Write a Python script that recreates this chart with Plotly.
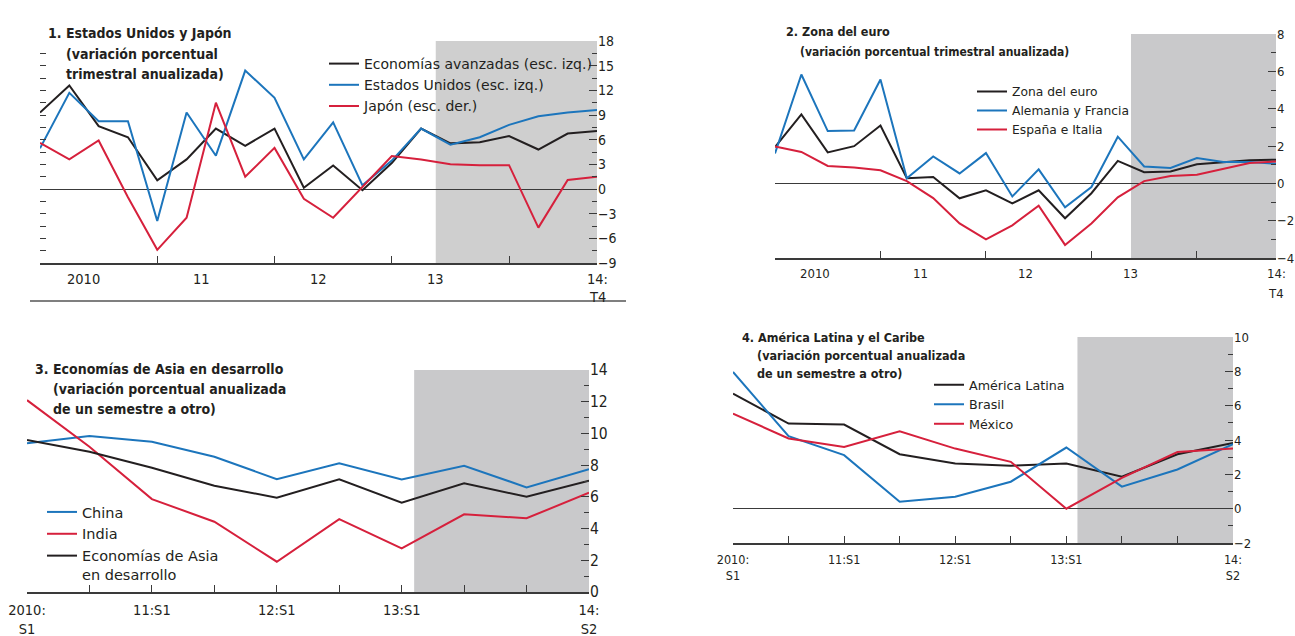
import plotly.graph_objects as go

W, H = 1295, 636
FONT = "DejaVu Sans Condensed, Liberation Sans Narrow, sans-serif"
LEGFONT = "DejaVu Sans, sans-serif"
TXT = "#231f20"
AX = "#3a3a3a"
BLACK = "#231f20"
BLUE = "#1c75bc"
RED = "#d6203c"
SHADE = "#c9c9cb"

# ---------------- data ----------------
quarters = ["2010T1", "2010T2", "2010T3", "2010T4", "2011T1", "2011T2", "2011T3", "2011T4",
            "2012T1", "2012T2", "2012T3", "2012T4", "2013T1", "2013T2", "2013T3", "2013T4",
            "2014T1", "2014T2", "2014T3", "2014T4"]
semesters = ["2010S1", "2010S2", "2011S1", "2011S2", "2012S1", "2012S2", "2013S1", "2013S2",
             "2014S1", "2014S2"]

# Panel 1: Estados Unidos y Japón
adv_econ = [3.1, 4.2, 2.55, 2.1, 0.35, 1.2, 2.45, 1.75, 2.45, 0.05, 0.95, -0.05, 1.05, 2.45,
            1.85, 1.9, 2.15, 1.6, 2.25, 2.35]
usa = [1.65, 3.9, 2.75, 2.75, -1.3, 3.1, 1.35, 4.8, 3.7, 1.2, 2.7, 0.15, 1.15, 2.45, 1.8, 2.1,
       2.6, 2.95, 3.1, 3.2]
japan = [5.6, 3.6, 5.9, -1.0, -7.4, -3.5, 10.5, 1.5, 5.0, -1.2, -3.5, 0.3, 4.0, 3.6, 3.0, 2.9,
         2.9, -4.7, 1.1, 1.5]

# Panel 2: Zona del euro
euro_area = [1.94, 3.69, 1.66, 1.99, 3.1, 0.27, 0.34, -0.8, -0.37, -1.08, -0.37, -1.87, -0.53,
             1.2, 0.6, 0.64, 1.02, 1.14, 1.23, 1.27]
ger_fra = [1.6, 5.83, 2.8, 2.83, 5.56, 0.27, 1.44, 0.53, 1.62, -0.7, 0.75, -1.28, -0.2, 2.5, 0.9,
           0.82, 1.35, 1.14, 1.14, 1.05]
spa_ita = [1.98, 1.68, 0.93, 0.85, 0.7, 0.12, -0.79, -2.15, -3.0, -2.25, -1.2, -3.3, -2.15,
           -0.75, 0.12, 0.39, 0.46, 0.79, 1.09, 1.17]

# Panel 3: Economías de Asia en desarrollo
china = [9.38, 9.84, 9.48, 8.53, 7.12, 8.11, 7.1, 7.96, 6.6, 7.74]
india = [12.1, 9.16, 5.86, 4.43, 1.91, 4.6, 2.75, 4.9, 4.65, 6.26]
dev_asia = [9.58, 8.85, 7.84, 6.7, 5.95, 7.1, 5.63, 6.85, 6.01, 7.02]

# Panel 4: América Latina y el Caribe
latam = [6.7, 4.96, 4.9, 3.17, 2.63, 2.5, 2.63, 1.86, 3.17, 3.83]
brazil = [7.96, 4.22, 3.12, 0.4, 0.69, 1.57, 3.56, 1.28, 2.28, 3.76]
mexico = [5.54, 4.09, 3.6, 4.51, 3.5, 2.73, 0.0, 1.8, 3.3, 3.5]

q_year_labels = ["2010", "11", "12", "13"]
q_end_label = ["14:", "T4"]
s_tick_text = ["2010:<br>S1", "", "11:S1", "", "12:S1", "", "13:S1", "", "", "14:<br>S2"]

qx = list(range(len(quarters)))
sx = list(range(len(semesters)))
q_proj_start = 13.5   # projection shading (quarterly panels)
s_proj_start = 6.2    # projection shading (half-year panels)


def px(x):
    return x / W


def py(y):
    return 1 - y / H


fig = go.Figure()


def line(x, y, name, color, xa, ya, leg, grp):
    fig.add_trace(go.Scatter(x=x, y=y, name=name, mode="lines",
                             line=dict(color=color, width=2),
                             xaxis=xa, yaxis=ya, legend=leg, legendgroup=grp,
                             hoverinfo="skip"))


# Panel 1
line(qx, adv_econ, "Economías avanzadas (esc. izq.)", BLACK, "x", "y", "legend", "p1a")
line(qx, usa, "Estados Unidos (esc. izq.)", BLUE, "x", "y", "legend", "p1b")
line(qx, japan, "Japón (esc. der.)", RED, "x", "y2", "legend", "p1c")
# Panel 2
line(qx, euro_area, "Zona del euro", BLACK, "x2", "y3", "legend2", "p2a")
line(qx, ger_fra, "Alemania y Francia", BLUE, "x2", "y3", "legend2", "p2b")
line(qx, spa_ita, "España e Italia", RED, "x2", "y3", "legend2", "p2c")
# Panel 3
line(sx, china, "China", BLUE, "x3", "y5", "legend3", "p3a")
line(sx, india, "India", RED, "x3", "y5", "legend3", "p3b")
line(sx, dev_asia, "Economías de Asia<br>en desarrollo", BLACK, "x3", "y5", "legend3", "p3c")
# Panel 4
line(sx, latam, "América Latina", BLACK, "x4", "y7", "legend4", "p4a")
line(sx, brazil, "Brasil", BLUE, "x4", "y7", "legend4", "p4b")
line(sx, mexico, "México", RED, "x4", "y7", "legend4", "p4c")


def xaxis(dom, rng, anchor, tickvals, size, ticktext=None):
    d = dict(domain=[px(dom[0]), px(dom[1])], range=rng, anchor=anchor,
             tickmode="array", tickvals=tickvals, ticks="inside", ticklen=7,
             tickwidth=1.3, tickcolor=AX, showline=True, linecolor=AX, linewidth=1.6,
             showgrid=False, zeroline=False, fixedrange=True,
             tickfont=dict(family=FONT, size=size, color=TXT))
    if ticktext is None:
        d["showticklabels"] = False
    else:
        d["ticktext"] = ticktext
        d["ticklabelstandoff"] = 4
    return d


def right_axis(dom, rng, anchor, dtick, minor, size, overlay=None, zl=True):
    d = dict(range=rng, anchor=anchor, side="right", tickmode="linear", tick0=0, dtick=dtick,
             ticks="inside", ticklen=8, tickwidth=1.3, tickcolor=AX,
             minor=dict(dtick=minor, tick0=0, ticks="inside", ticklen=5, tickwidth=1.2,
                        tickcolor=AX),
             showgrid=False, zeroline=zl, zerolinecolor=AX, zerolinewidth=1.3,
             showline=False, fixedrange=True,
             tickfont=dict(family=FONT, size=size, color=TXT))
    if overlay:
        d["overlaying"] = overlay
    else:
        d["domain"] = [py(dom[1]), py(dom[0])]
    return d


def left_ticks(dom, rng, anchor, dtick, overlay=None, zl=False):
    d = dict(range=rng, anchor=anchor, side="left", tickmode="linear", tick0=0, dtick=dtick,
             ticks="inside", ticklen=6, tickwidth=1.2, tickcolor=AX, showticklabels=False,
             showgrid=False, zeroline=zl, zerolinecolor=AX, zerolinewidth=1.3,
             showline=False, fixedrange=True)
    if overlay:
        d["overlaying"] = overlay
    else:
        d["domain"] = [py(dom[1]), py(dom[0])]
    return d


P1 = dict(x=(40, 597), y=(41, 263))
P2 = dict(x=(775, 1276), y=(34, 258))
P3 = dict(x=(27, 589), y=(370, 592))
P4 = dict(x=(733, 1233), y=(337, 543))

layout = dict(
    width=W, height=H, margin=dict(l=0, r=0, t=0, b=0, autoexpand=False),
    paper_bgcolor="white", plot_bgcolor="rgba(0,0,0,0)",
    font=dict(family=FONT, color=TXT),
    xaxis=xaxis(P1["x"], [0, 19], "y", [0, 4, 8, 12, 16], 14),
    yaxis=left_ticks(P1["y"], [-3, 6], "x", 0.5, zl=True),
    yaxis2=right_axis(P1["y"], [-9, 18], "x", 3, 1.5, 14, overlay="y", zl=False),
    xaxis2=xaxis(P2["x"], [0, 19], "y3", [0, 4, 8, 12, 16], 13),
    yaxis3=right_axis(P2["y"], [-4, 8], "x2", 2, 1, 13),
    yaxis4=left_ticks(P2["y"], [-4, 8], "x2", 1, overlay="y3"),
    xaxis3=xaxis(P3["x"], [0, 9], "y5", sx, 14.5, ticktext=s_tick_text),
    yaxis5=right_axis(P3["y"], [0, 14], "x3", 2, 1, 15.5, zl=False),
    yaxis6=left_ticks(P3["y"], [0, 14], "x3", 1, overlay="y5"),
    xaxis4=xaxis(P4["x"], [0, 9], "y7", sx, 12.5, ticktext=s_tick_text),
    yaxis7=right_axis(P4["y"], [-2, 10], "x4", 2, 1, 13),
    yaxis8=left_ticks(P4["y"], [-2, 10], "x4", 1, overlay="y7"),
    showlegend=True,
)


def legend(x, y, size, gap):
    return dict(x=px(x), y=py(y), xanchor="left", yanchor="top",
                font=dict(family=LEGFONT, size=size, color=TXT), bgcolor="rgba(0,0,0,0)",
                borderwidth=0, tracegroupgap=gap, itemwidth=30, valign="top",
                traceorder="normal", itemclick=False, itemdoubleclick=False)


layout["legend"] = legend(324, 48, 14, 0)
layout["legend2"] = legend(972, 77, 12.3, 2)
layout["legend3"] = legend(42, 496, 14.5, 0)
layout["legend4"] = legend(929, 370, 12.7, 0)

shapes = [
    dict(type="rect", xref="x", yref="y domain", x0=q_proj_start, x1=19, y0=0, y1=1,
         fillcolor="#cfcfcf", line=dict(width=0), layer="below"),
    dict(type="rect", xref="x2", yref="y3 domain", x0=q_proj_start, x1=19, y0=0, y1=1,
         fillcolor=SHADE, line=dict(width=0), layer="below"),
    dict(type="rect", xref="x3", yref="y5 domain", x0=s_proj_start, x1=9, y0=0, y1=1,
         fillcolor=SHADE, line=dict(width=0), layer="below"),
    dict(type="rect", xref="x4", yref="y7 domain", x0=s_proj_start, x1=9, y0=0, y1=1,
         fillcolor=SHADE, line=dict(width=0), layer="below"),
    # frame line under panel 1 (from the scanned page)
    dict(type="line", xref="paper", yref="paper", x0=px(30), x1=px(626), y0=py(301),
         y1=py(301), line=dict(color="#555555", width=1.5)),
]
layout["shapes"] = shapes

annotations = []


def note(text, x, y, size, xref="paper", bold=True, xanchor="left"):
    annotations.append(dict(text=f"<b>{text}</b>" if bold else text,
                            x=x if xref != "paper" else px(x), y=py(y),
                            xref=xref, yref="paper", xanchor=xanchor, yanchor="middle",
                            showarrow=False, borderpad=0,
                            font=dict(family=FONT, size=size, color=TXT)))


# titles
note("1. Estados Unidos y Japón", 47, 33, 14)
note("(variación porcentual", 65, 54, 14)
note("trimestral anualizada)", 65, 74, 14)
note("2. Zona del euro", 785, 32, 12.5)
note("(variación porcentual trimestral anualizada)", 799, 52, 12)
note("3. Economías de Asia en desarrollo", 34, 369, 14)
note("(variación porcentual anualizada", 52, 389, 14)
note("de un semestre a otro)", 52, 409, 14)
note("4. América Latina y el Caribe", 741, 337, 12.5)
note("(variación porcentual anualizada", 756, 355, 12.5)
note("de un semestre a otro)", 756, 373, 12.5)

# x labels for quarterly panels (centred in each year)
for i, lab in enumerate(q_year_labels):
    note(lab, 1.5 + 4 * i, 279, 14.5, xref="x", bold=False, xanchor="center")
    note(lab, 1.5 + 4 * i, 273, 13, xref="x2", bold=False, xanchor="center")
note(q_end_label[0], 19, 279, 14.5, xref="x", bold=False, xanchor="center")
note(q_end_label[1], 19, 297, 14.5, xref="x", bold=False, xanchor="center")
note(q_end_label[0], 19, 273, 13, xref="x2", bold=False, xanchor="center")
note(q_end_label[1], 19, 293, 13, xref="x2", bold=False, xanchor="center")

layout["annotations"] = annotations
fig.update_layout(**layout)

fig.write_html("out.html", config=dict(displayModeBar=False),
               post_script="document.body.style.margin='0px';document.body.style.overflow='hidden';")
